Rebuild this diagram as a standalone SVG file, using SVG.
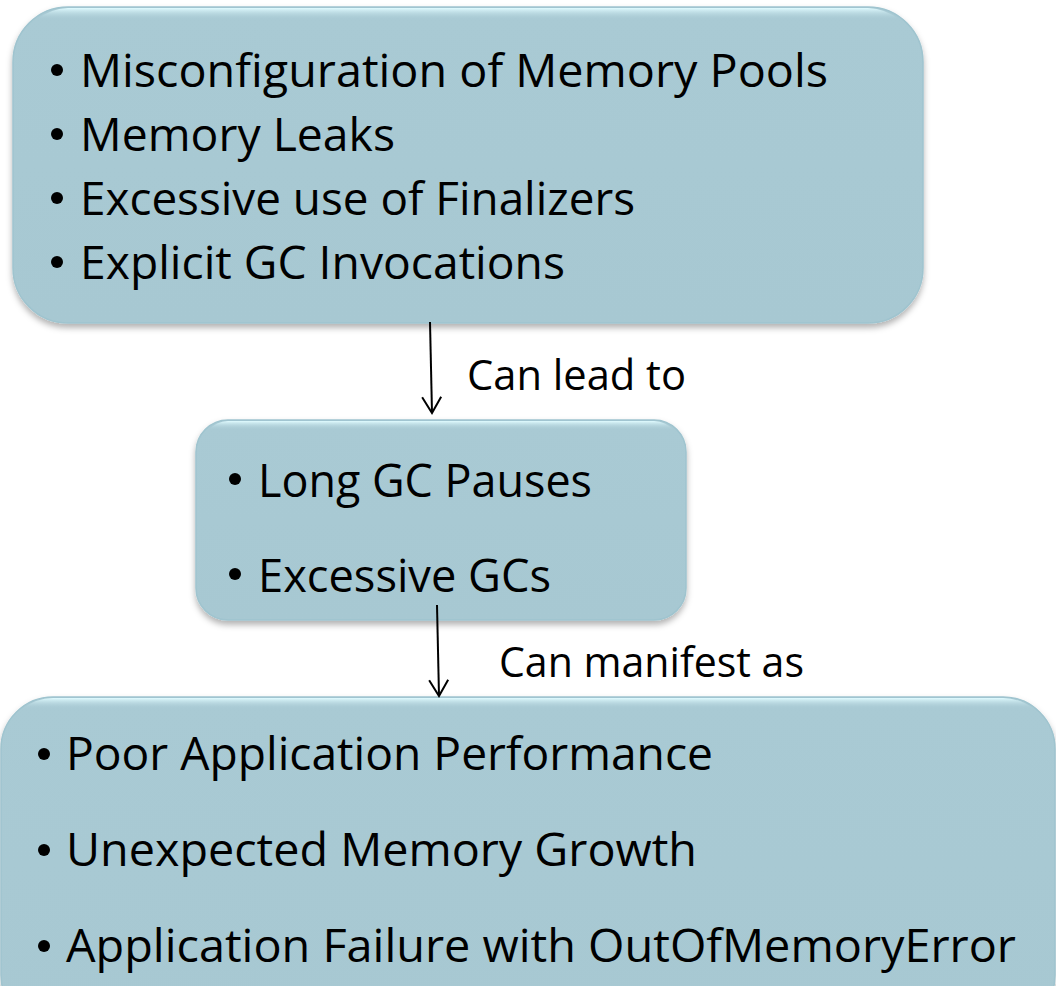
<svg xmlns="http://www.w3.org/2000/svg" width="1056" height="986" viewBox="0 0 1056 986">
<style>
.box{fill:url(#fillg);stroke:#9fc4cf;stroke-width:1.5;filter:url(#sh)}
.hl{fill:url(#hlg)}
.t{font-family:"Open Sans","Noto Sans","Liberation Sans",sans-serif;font-size:46px;fill:#000}
.lbl{font-family:"Open Sans","Noto Sans","Liberation Sans",sans-serif;font-size:42px;fill:#000}
.dot{fill:#000}
.conn{stroke:#000;stroke-width:2;fill:none}
</style>
<defs>
<linearGradient id="fillg" x1="0" y1="0" x2="0" y2="1">
<stop offset="0" stop-color="#a9cad4"/>
<stop offset="1" stop-color="#a7c8d2"/>
</linearGradient>
<linearGradient id="hlg" x1="0" y1="0" x2="0" y2="1">
<stop offset="0" stop-color="#e0fbff" stop-opacity="1"/>
<stop offset="1" stop-color="#a9cad4" stop-opacity="0"/>
</linearGradient>
<filter id="sh" x="-5%" y="-5%" width="110%" height="115%">
<feDropShadow dx="0" dy="4" stdDeviation="3" flood-color="#000" flood-opacity="0.3"/>
</filter>
<marker id="arr" markerWidth="20" markerHeight="22" viewBox="-18 -11 20 22" refX="0" refY="0" orient="auto" markerUnits="userSpaceOnUse">
<path d="M-16,-9.5 L0,0 L-16,9.5" stroke="#000" stroke-width="2" fill="none"/>
</marker>
</defs>

<g id="node-causes">
<rect class="box" x="13" y="7" width="910" height="316" rx="55" ry="55"/>
<path class="hl" d="M68,8 H868 A54,54 0 0 1 900,20 H36 A54,54 0 0 1 68,8 Z"/>
<circle class="dot" cx="57" cy="70" r="6"/>
<text class="t" x="80" y="87" textLength="748" lengthAdjust="spacingAndGlyphs">Misconfiguration of Memory Pools</text>
<circle class="dot" cx="57" cy="134" r="6"/>
<text class="t" x="80" y="151" textLength="315" lengthAdjust="spacingAndGlyphs">Memory Leaks</text>
<circle class="dot" cx="57" cy="198" r="6"/>
<text class="t" x="80" y="215" textLength="555" lengthAdjust="spacingAndGlyphs">Excessive use of Finalizers</text>
<circle class="dot" cx="57" cy="262" r="6"/>
<text class="t" x="80" y="279" textLength="485" lengthAdjust="spacingAndGlyphs">Explicit GC Invocations</text>
</g>

<g id="node-effects">
<rect class="box" x="196" y="420" width="490" height="200" rx="32" ry="32"/>
<path class="hl" d="M228,421 H654 A31,31 0 0 1 674,430 H208 A31,31 0 0 1 228,421 Z"/>
<circle class="dot" cx="235" cy="479" r="6"/>
<text class="t" x="258" y="497" textLength="334" lengthAdjust="spacingAndGlyphs">Long GC Pauses</text>
<circle class="dot" cx="235" cy="574" r="6"/>
<text class="t" x="258" y="592" textLength="293" lengthAdjust="spacingAndGlyphs">Excessive GCs</text>
</g>

<g id="node-symptoms">
<rect class="box" x="1" y="697" width="1054" height="330" rx="52" ry="52"/>
<path class="hl" d="M53,698 H1003 A51,51 0 0 1 1034,709 H22 A51,51 0 0 1 53,698 Z"/>
<circle class="dot" cx="44" cy="754" r="6"/>
<text class="t" x="66" y="770" textLength="647" lengthAdjust="spacingAndGlyphs">Poor Application Performance</text>
<circle class="dot" cx="44" cy="850" r="6"/>
<text class="t" x="66" y="866" textLength="631" lengthAdjust="spacingAndGlyphs">Unexpected Memory Growth</text>
<circle class="dot" cx="44" cy="946" r="6"/>
<text class="t" x="66" y="962" textLength="950" lengthAdjust="spacingAndGlyphs">Application Failure with OutOfMemoryError</text>
</g>

<g id="connectors">
<line class="conn" x1="430" y1="322" x2="432" y2="413" marker-end="url(#arr)"/>
<text class="lbl" x="467" y="390" textLength="219" lengthAdjust="spacingAndGlyphs">Can lead to</text>
<line class="conn" x1="437" y1="605" x2="439" y2="696" marker-end="url(#arr)"/>
<text class="lbl" x="499" y="677" textLength="305" lengthAdjust="spacingAndGlyphs">Can manifest as</text>
</g>
</svg>
